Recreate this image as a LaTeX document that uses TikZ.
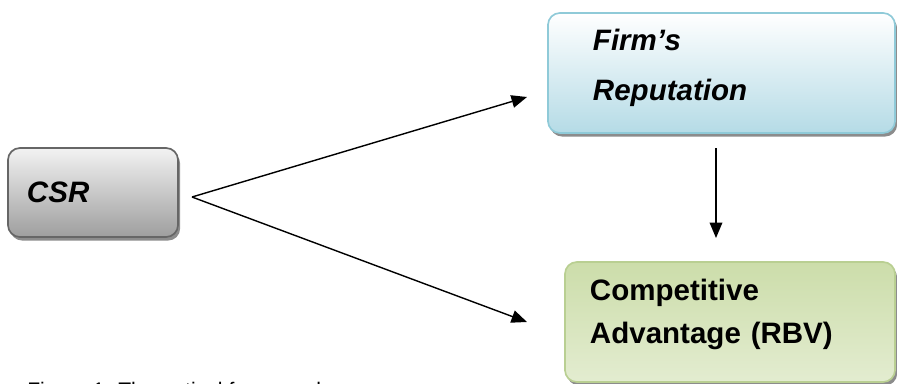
\documentclass[tikz,border=0pt]{standalone}
\usepackage{fontspec}
\setmainfont{Liberation Sans}
\usetikzlibrary{arrows.meta,shadows}
\pgfdeclarelayer{background}
\pgfdeclarelayer{foreground}
\pgfsetlayers{background,main,foreground}

\tikzset{
  basebox/.style={rounded corners=0.3cm, line width=1.2pt, align=left, anchor=center,
    drop shadow={shadow xshift=1.5pt, shadow yshift=-2.5pt, fill=black!45, opacity=1}},
  csrbox/.style={basebox, draw=black!60, top color=black!5, bottom color=black!38,
    minimum width=4.25cm, minimum height=2.225cm, inner xsep=0.475cm, text width=3.3cm,
    font=\fontsize{21}{25}\selectfont\bfseries\itshape},
  repbox/.style={basebox, draw=repline, top color=white, bottom color=repfill,
    minimum width=8.675cm, minimum height=3cm, inner xsep=1.125cm, text width=6.425cm,
    text depth=47.5pt, font=\fontsize{21}{35.4}\selectfont\bfseries\itshape},
  advbox/.style={basebox, draw=advline, top color=advfill, bottom color=advfill!55!white,
    minimum width=8.25cm, minimum height=3cm, inner xsep=0.625cm, text width=7cm,
    text depth=46pt, font=\fontsize{21}{30.5}\selectfont\bfseries},
  link/.style={line width=1pt, -{Triangle[length=11pt,width=9pt]}}
}
\definecolor{repline}{HTML}{8FCAD8}
\definecolor{repfill}{HTML}{B5DBE6}
\definecolor{advline}{HTML}{B9CF92}
\definecolor{advfill}{HTML}{CCDDAA}

\begin{document}
\begin{tikzpicture}[x=0.025cm,y=-0.025cm]
\useasboundingbox (0,0) rectangle (897,383);
\begin{pgfonlayer}{foreground}
\node[csrbox] (csr) at (93,192.5) {CSR};
\node[repbox] (rep) at (721.5,73) {Firm’s\\Reputation};
\node[advbox] (adv) at (730,322) {Competitive\\Advantage (RBV)};
\end{pgfonlayer}
\begin{pgfonlayer}{background}
\coordinate (fork) at (192,197);
\coordinate (reptip) at (527,97);
\coordinate (advtip) at (527,322);
\coordinate (repout) at (716,148);
\coordinate (advin) at (716,238);
\draw[link] (fork) -- (reptip);
\draw[link] (fork) -- (advtip);
\draw[link] (repout) -- (advin);
\end{pgfonlayer}
\node[anchor=base west, inner sep=0pt, font=\fontsize{15}{18}\selectfont] (cap) at (27,397) {Figure 1: Theoretical framework};
\end{tikzpicture}
\end{document}
